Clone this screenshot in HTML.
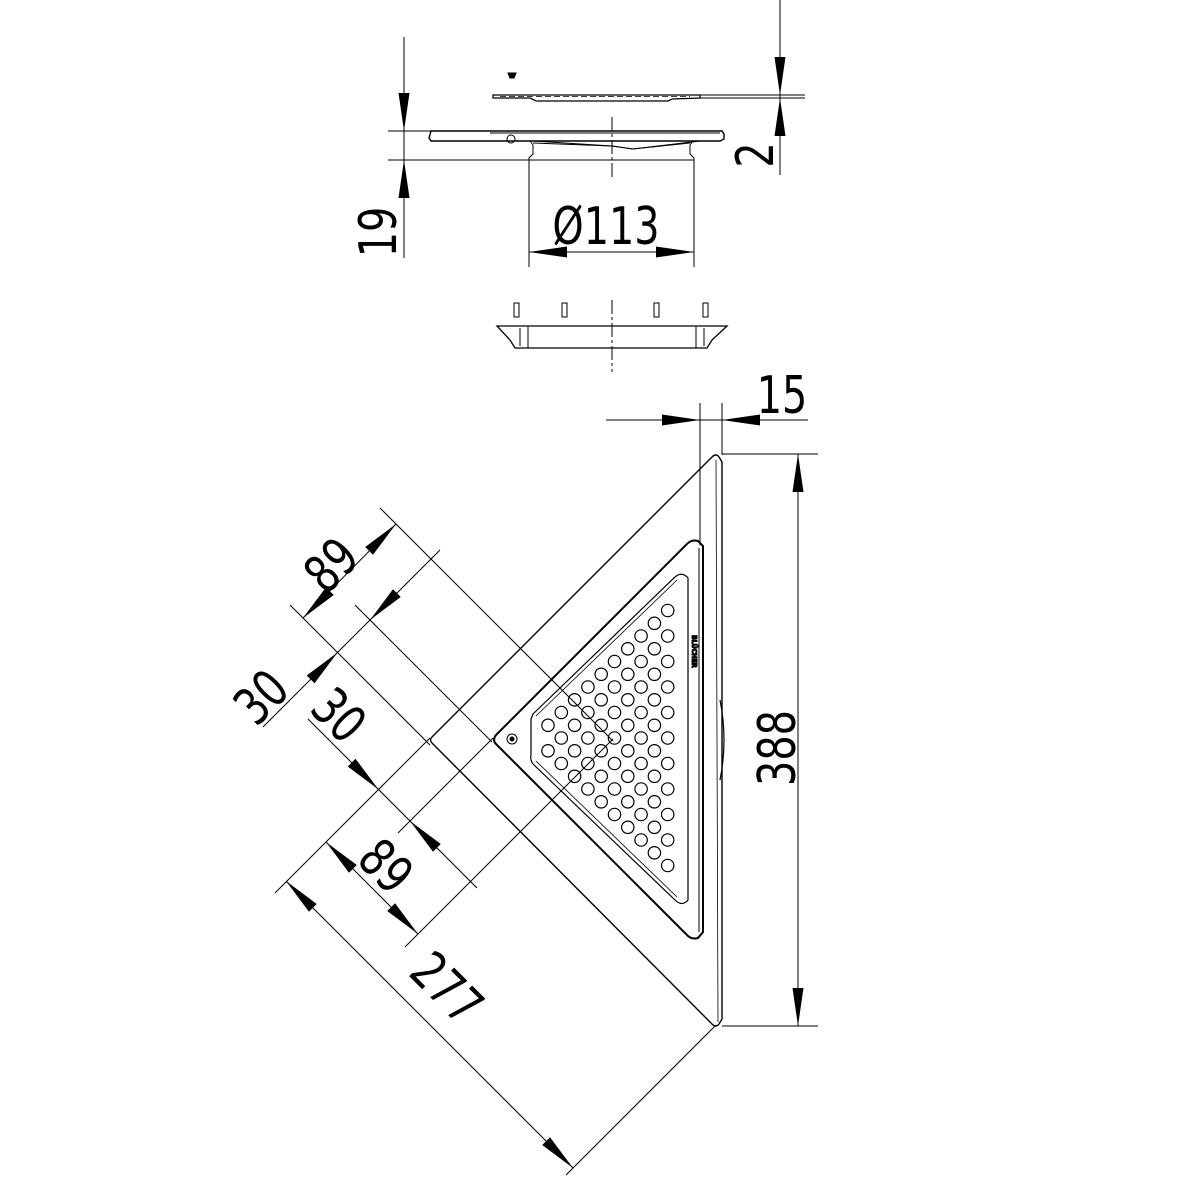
<!DOCTYPE html>
<html><head><meta charset="utf-8"><style>
html,body{margin:0;padding:0;background:#fff}
svg{display:block}
text{font-family:"DejaVu Sans Condensed","Liberation Sans",sans-serif;fill:#000}
</style></head><body>
<svg width="1181" height="1181" viewBox="0 0 1181 1181" xmlns="http://www.w3.org/2000/svg">
<defs>
<path id="a" d="M0,0 L-38,-5.5 L-38,5.5Z" fill="#000"/>
</defs>
<g stroke="#000" fill="none" stroke-width="1">
<line x1="780" y1="0" x2="780" y2="175"/>
<line x1="700" y1="95" x2="805" y2="95"/>
<line x1="700" y1="98" x2="805" y2="98"/>
<path d="M493,95 L700,95 L700,98 L672,99 L668,101 L536,101 L530,98 L493,98 Z" stroke-width="1.3"/>
<line x1="500" y1="96.5" x2="690" y2="96.5" stroke-dasharray="6,3" stroke-width="0.7"/>
<path d="M508,73 L516,73 L514,78 L510,78 Z" fill="#000"/>
<line x1="404" y1="37" x2="404" y2="258"/>
<line x1="388" y1="131" x2="500" y2="131"/>
<line x1="388" y1="160" x2="530" y2="160"/>
<path d="M431,131 L722,131 L724,134 L724,139 L720,141 L431,141 L429,138 Z" stroke-width="1.4"/>
<line x1="490" y1="133" x2="720" y2="133"/>
<path d="M530,141 L533,145 L533,154 L529,158 L529,160 L694,160 L694,158 L690,154 L690,145 L693,141"/>
<path d="M533,141 L612,146 L633,149 L700,141"/>
<path d="M533,143 L612,146 L633,149 L690,143"/>
<circle cx="511" cy="139" r="4"/>
<line x1="612" y1="117" x2="612" y2="180" stroke-dasharray="14,3,3,3"/>
<line x1="529" y1="160" x2="529" y2="267"/>
<line x1="694" y1="160" x2="694" y2="267"/>
<line x1="529" y1="252" x2="694" y2="252"/>
<g stroke-width="1">
<rect x="514" y="303" width="5" height="14"/><rect x="562" y="303" width="5" height="14"/>
<rect x="654" y="303" width="5" height="14"/><rect x="703" y="303" width="5" height="14"/>
</g>
<path d="M497,326 L727,326 L712,340 L707,348 L515,348 L510,340 Z" stroke-width="1.3"/>
<line x1="528" y1="326" x2="528" y2="348"/><line x1="696" y1="326" x2="696" y2="348"/>
<line x1="520" y1="328" x2="520" y2="346"/><line x1="704" y1="328" x2="704" y2="346"/>
<line x1="612" y1="300" x2="612" y2="372" stroke-dasharray="14,3,3,3"/>

<path d="M432,737 L712,457 Q716,453 719,457 L722,462 L722,1019 L719,1024 Q716,1028 712,1024 L432,743 Q429,740 432,737 Z" stroke-width="1.4"/>
<line x1="716" y1="460" x2="718" y2="1022" stroke-width="0.8"/>
<path d="M496,735 L686,545 Q691,539 698,541 L703,546 L703,932 L698,938 Q691,940 686,934 L496,744 Q492,740 496,735 Z" stroke-width="2"/>
<line x1="699" y1="548" x2="699" y2="932"/>
<circle cx="512" cy="739" r="5"/><circle cx="512" cy="739" r="2" fill="#000"/>
<path d="M533,714 L675,577 Q682,571 688,578 L688,900 Q682,907 675,900 L533,764 Q530,760 531,755 L531,719 Z" stroke-width="1.2"/>
<path d="M536,716 L677,580 M536,761 L677,897" stroke-width="0.8"/>
<path d="M720,700 Q728,740 720,780" stroke-width="1.2"/>
<text x="0" y="0" font-size="7" transform="translate(692,635) rotate(90)" font-weight="bold">BLÜCHER</text>
<g id="holes" stroke-width="1.2"></g>

<line x1="700" y1="403" x2="700" y2="545"/>
<line x1="722" y1="403" x2="722" y2="455"/>
<line x1="606" y1="420" x2="808" y2="420"/>
<line x1="722" y1="454" x2="818" y2="454"/>
<line x1="722" y1="1026" x2="818" y2="1026"/>
<line x1="798" y1="454" x2="798" y2="1026"/>

<line x1="380" y1="508" x2="613" y2="741"/>
<line x1="290" y1="605" x2="430" y2="745"/>
<line x1="355" y1="605" x2="492" y2="742"/>
<line x1="303" y1="618" x2="396" y2="524"/>
<line x1="263" y1="727" x2="440" y2="550"/>
<line x1="275" y1="893" x2="430" y2="738"/>
<line x1="398" y1="833" x2="493" y2="738"/>
<line x1="405" y1="947" x2="613" y2="739"/>
<line x1="566" y1="1175" x2="716" y2="1025"/>
<line x1="308" y1="719" x2="477" y2="888"/>
<line x1="326" y1="842" x2="418" y2="934"/>
<line x1="286" y1="881" x2="573" y2="1168"/>
</g>

<use href="#a" transform="translate(780,95) rotate(90)"/>
<use href="#a" transform="translate(780,98) rotate(-90)"/>
<use href="#a" transform="translate(404,131) rotate(90)"/>
<use href="#a" transform="translate(404,160) rotate(-90)"/>
<use href="#a" transform="translate(529,252) rotate(180)"/>
<use href="#a" transform="translate(694,252) rotate(0)"/>
<use href="#a" transform="translate(700,420) rotate(0)"/>
<use href="#a" transform="translate(722,420) rotate(180)"/>
<use href="#a" transform="translate(798,454) rotate(-90)"/>
<use href="#a" transform="translate(798,1026) rotate(90)"/>
<use href="#a" transform="translate(396,524) rotate(-45)"/>
<use href="#a" transform="translate(303,618) rotate(135)"/>
<use href="#a" transform="translate(370,620) rotate(135)"/>
<use href="#a" transform="translate(337.5,652.5) rotate(-45)"/>
<use href="#a" transform="translate(378.5,789.5) rotate(45)"/>
<use href="#a" transform="translate(410,821) rotate(-135)"/>
<use href="#a" transform="translate(326,842) rotate(-135)"/>
<use href="#a" transform="translate(418,934) rotate(45)"/>
<use href="#a" transform="translate(286,881) rotate(-135)"/>
<use href="#a" transform="translate(573,1168) rotate(45)"/>

<g font-size="52" text-anchor="middle">
<text transform="translate(606,244) scale(0.85,1)">Ø113</text>
<text transform="translate(396,232) rotate(-90) scale(0.85,1)">19</text>
<text transform="translate(773,155) rotate(-90) scale(0.85,1)">2</text>
<text transform="translate(782,413) scale(0.85,1)">15</text>
<text transform="translate(795,748) rotate(-90) scale(0.85,1)">388</text>
<text transform="translate(344,578) rotate(-45) scale(0.85,1)">89</text>
<text transform="translate(274,710) rotate(-45) scale(0.85,1)">30</text>
<text transform="translate(326,728) rotate(45) scale(0.85,1)">30</text>
<text transform="translate(373,879) rotate(45) scale(0.85,1)">89</text>
<text transform="translate(434,1001) rotate(45) scale(0.85,1)">277</text>
</g>
</svg>
<script>
(function(){var g=document.getElementById('holes'),s='';
for(var k=0;k<10;k++){var x=548+13.3*k,n=k+2;for(var i=0;i<n;i++){var y=738+(i-(n-1)/2)*25.5;
s+='<circle cx="'+x.toFixed(1)+'" cy="'+y.toFixed(1)+'" r="6.2" fill="none" stroke="#000" stroke-width="1.2"/>';}}
g.innerHTML=s;})();
</script>
</body></html>
